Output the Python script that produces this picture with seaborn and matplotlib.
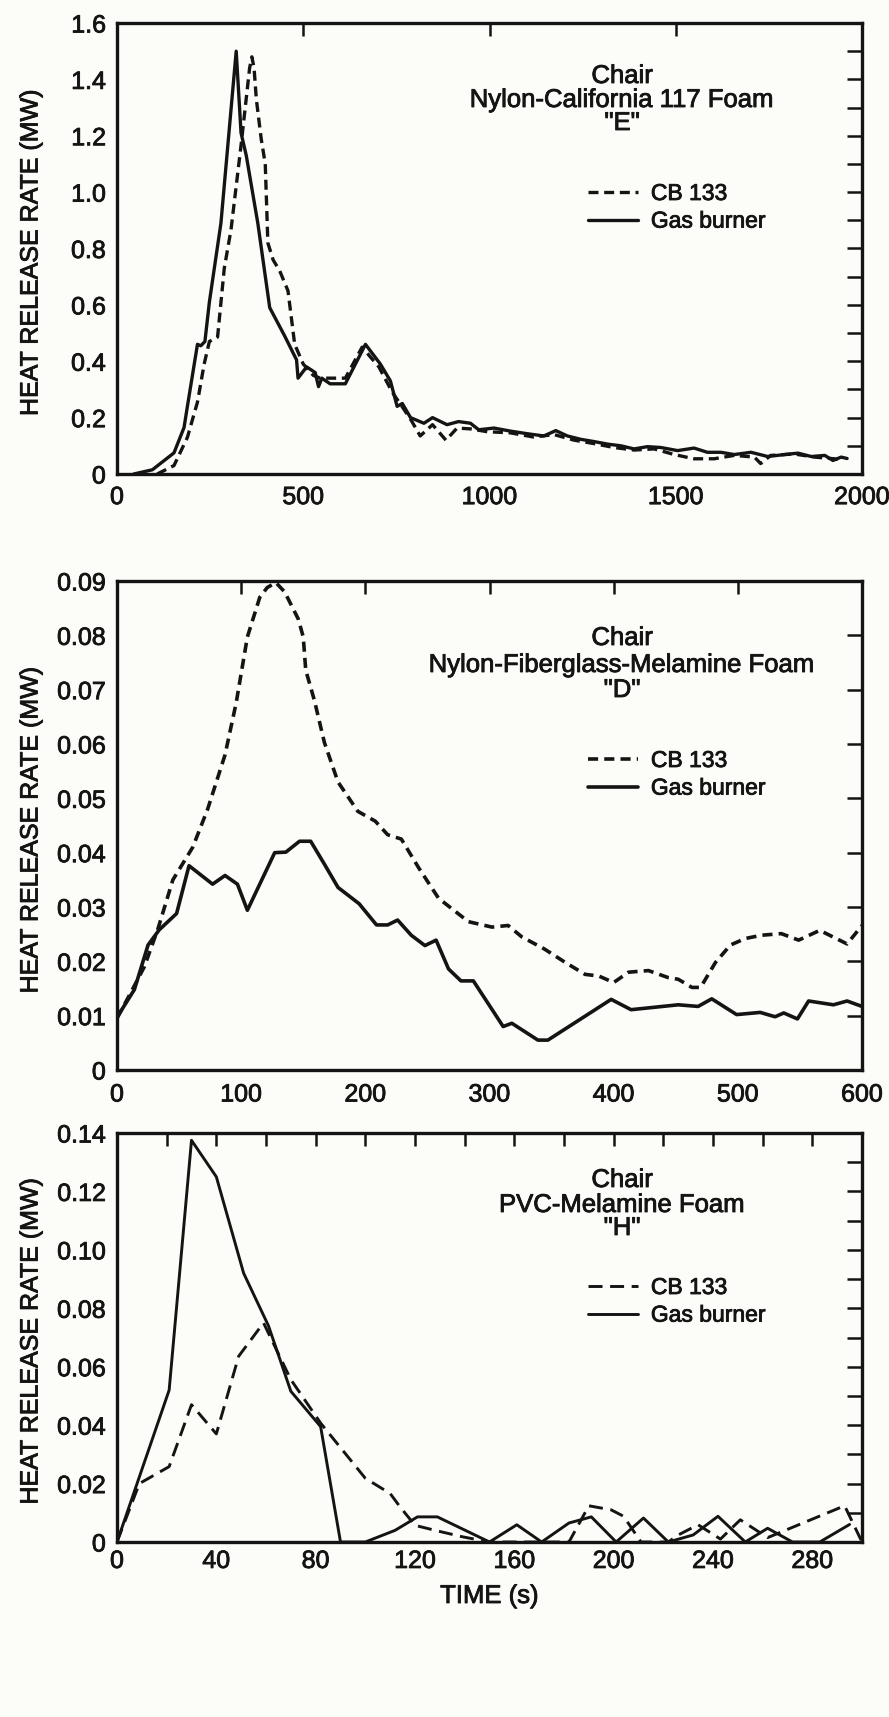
import pandas as pd
import matplotlib
matplotlib.use("Agg")
import matplotlib.pyplot as plt
import matplotlib.patheffects as pe
from matplotlib.text import Text
import seaborn as sns

# chair E : Nylon-California 117 foam
e_cb_t = [108, 153, 189, 216, 234, 248, 261, 270, 288, 306, 333, 356, 362, 368, 374, 387, 398, 405,
          419, 437, 459, 477, 500, 527, 545, 586, 613, 658, 703, 739, 770, 790, 814, 847, 883, 913,
          949, 994, 1056, 1119, 1173, 1227, 1280, 1334, 1388, 1442, 1496, 1549, 1603, 1657, 1711,
          1728, 1755, 1818, 1872, 1926, 1944]
e_cb_q = [0, 0.03, 0.13, 0.255, 0.39, 0.47, 0.48, 0.486, 0.73, 0.866, 1.166, 1.44, 1.48, 1.44, 1.33,
          1.19, 1.10, 0.82, 0.76, 0.72, 0.65, 0.46, 0.39, 0.35, 0.34, 0.34, 0.34, 0.45, 0.38, 0.29,
          0.23, 0.19, 0.135, 0.175, 0.12, 0.163, 0.16, 0.15, 0.146, 0.131, 0.14, 0.12, 0.108, 0.094,
          0.085, 0.089, 0.069, 0.054, 0.054, 0.066, 0.06, 0.037, 0.066, 0.071, 0.06, 0.054, 0.048]
e_gas_t = [45, 95, 153, 180, 189, 216, 225, 236, 248, 279, 320, 333, 347, 378, 410, 450, 482, 486,
           509, 532, 541, 550, 572, 613, 640, 667, 707, 734, 752, 766, 788, 824, 847, 886, 917, 949,
           971, 1012, 1057, 1101, 1146, 1178, 1209, 1245, 1281, 1317, 1353, 1388, 1424, 1460, 1505,
           1549, 1585, 1621, 1657, 1702, 1747, 1792, 1828, 1864, 1900, 1922, 1944, 1960]
e_gas_q = [0, 0.015, 0.075, 0.165, 0.24, 0.46, 0.455, 0.47, 0.61, 0.89, 1.50, 1.21, 1.13, 0.89, 0.59,
           0.49, 0.405, 0.34, 0.38, 0.36, 0.31, 0.34, 0.32, 0.32, 0.39, 0.46, 0.39, 0.33, 0.24, 0.25,
           0.20, 0.18, 0.20, 0.175, 0.186, 0.18, 0.157, 0.163, 0.152, 0.143, 0.135, 0.154, 0.135,
           0.123, 0.115, 0.106, 0.10, 0.089, 0.097, 0.094, 0.083, 0.092, 0.077, 0.077, 0.069, 0.077,
           0.062, 0.069, 0.074, 0.062, 0.066, 0.048, 0.06, 0.055]

# chair D : Nylon-Fiberglass-Melamine foam
d_cb_t = [0, 11, 22, 33, 45, 53, 61, 73, 87, 96, 105, 115, 121, 128, 135, 146, 150, 152, 159, 167,
          178, 194, 208, 218, 229, 243, 259, 283, 302, 315, 326, 344, 361, 377, 388, 400, 412, 428,
          444, 452, 463, 470, 482, 494, 506, 519, 535, 549, 566, 588, 600]
d_cb_q = [0.0095, 0.0142, 0.019, 0.026, 0.035, 0.038, 0.041, 0.048, 0.058, 0.0676, 0.0797, 0.087,
          0.0888, 0.0897, 0.088, 0.083, 0.0797, 0.0736, 0.068, 0.0603, 0.053, 0.0476, 0.0458, 0.0433,
          0.0425, 0.0372, 0.0316, 0.0273, 0.0263, 0.0266, 0.0245, 0.0223, 0.0198, 0.0176, 0.0173,
          0.0161, 0.018, 0.0183, 0.017, 0.0167, 0.0152, 0.0152, 0.0198, 0.023, 0.0242, 0.0248,
          0.0251, 0.0239, 0.0257, 0.0232, 0.0266]
d_gas_t = [0, 14, 25, 34, 48, 58, 77, 87, 97, 105, 127, 136, 147, 156, 167, 178, 195, 209, 218, 226,
           237, 248, 257, 267, 277, 287, 311, 318, 339, 347, 398, 414, 452, 468, 479, 499, 518, 530,
           537, 548, 557, 577, 588, 600]
d_gas_q = [0.0097, 0.0148, 0.023, 0.0258, 0.0288, 0.0376, 0.0342, 0.0358, 0.0342, 0.0294, 0.040,
           0.0401, 0.0421, 0.0421, 0.0379, 0.0336, 0.0306, 0.0267, 0.0267, 0.0276, 0.0248, 0.0229,
           0.0239, 0.0186, 0.0164, 0.0164, 0.008, 0.0086, 0.0055, 0.0055, 0.013, 0.0111, 0.012,
           0.0117, 0.0131, 0.0102, 0.0106, 0.0098, 0.0105, 0.0094, 0.0127, 0.012, 0.0127, 0.0117]

# chair H : PVC-Melamine foam
h_cb_t = [0, 9, 21, 30, 40, 49, 59, 70, 82, 100, 110, 114, 120, 129, 139, 150, 182, 190, 199, 204,
          211, 222, 226, 234, 243, 251, 262, 293, 300]
h_cb_q = [0, 0.02, 0.0258, 0.047, 0.037, 0.0636, 0.075, 0.0556, 0.0407, 0.0218, 0.0166, 0.012,
          0.0057, 0.0038, 0.0018, 0, 0, 0.0124, 0.011, 0.0088, 0, 0, 0.0024, 0.0059, 0.001, 0.0076,
          0.0015, 0.0124, 0]
h_gas_t = [0, 21, 30, 40, 51, 61, 70, 82, 90, 100, 112, 121, 129, 150, 161, 171, 182, 191, 201, 212,
           222, 232, 242, 253, 262, 272, 283, 295]
h_gas_q = [0, 0.052, 0.1375, 0.125, 0.092, 0.074, 0.0516, 0.0395, 0, 0, 0.004, 0.0086, 0.0086, 0,
           0.0059, 0, 0.0065, 0.0086, 0, 0.0082, 0, 0.0024, 0.0088, 0, 0.0047, 0, 0, 0.006]

series = ['CB 133', 'Gas burner']
titles = [['Chair', 'Nylon-California 117 Foam', '"E"'],
          ['Chair', 'Nylon-Fiberglass-Melamine Foam', '"D"'],
          ['Chair', 'PVC-Melamine Foam', '"H"']]

sns.set_theme(style='white')
plt.rcParams['font.family'] = ['Liberation Sans', 'DejaVu Sans']
ink = '#141414'
paper = '#fcfcf8'

fig = plt.figure(figsize=(8.89, 17.17), dpi=100, facecolor=paper)
H = 1717.0
W = 889.0


def make_ax(top, bottom):
    ax = fig.add_axes([117 / W, 1 - bottom / H, (862 - 117) / W, (bottom - top) / H])
    ax.set_facecolor(paper)
    return ax


def frame(df, ax, lw, dash, xpad):
    sns.lineplot(data=df, x='t', y='q', style='src', style_order=series,
                 dashes={'CB 133': dash, 'Gas burner': ''}, color=ink, linewidth=lw,
                 estimator=None, sort=False, legend=False, ax=ax)
    for s in ax.spines.values():
        s.set_linewidth(2.4)
        s.set_color(ink)
    ax.tick_params(which='both', direction='in', top=True, right=True, colors=ink,
                   width=1.8, labelsize=18, labelcolor=ink)
    ax.tick_params(axis='y', which='both', length=11, pad=8)
    ax.tick_params(axis='x', which='both', length=9, pad=xpad)
    ax.set_xlabel('')
    ax.set_ylabel('HEAT RELEASE RATE (MW)', fontsize=18, color=ink)
    ax.yaxis.set_label_coords(-0.10, 0.49)


def notes(ax, lines, ys, leg_y, top, bottom):
    hgt = bottom - top
    for txt, y in zip(lines, ys):
        ax.text(0.678, 1 - (y - top) / hgt, txt, transform=ax.transAxes, ha='center',
                va='center', fontsize=18.5, color=ink)
    ax.legend(ax.lines[:2], series, loc='upper left',
              bbox_to_anchor=(0.632, 1 - (leg_y - top) / hgt + 11 / hgt),
              frameon=False, fontsize=16.5, handlelength=2.2, handletextpad=0.55,
              labelspacing=0.2, borderpad=0, borderaxespad=0, labelcolor=ink)


def long(cb_t, cb_q, gas_t, gas_q):
    a = pd.DataFrame({'t': cb_t, 'q': cb_q, 'src': 'CB 133'})
    b = pd.DataFrame({'t': gas_t, 'q': gas_q, 'src': 'Gas burner'})
    return pd.concat([a, b], ignore_index=True)


# panel E
ax1 = make_ax(23, 474)
frame(long(e_cb_t, e_cb_q, e_gas_t, e_gas_q), ax1, 2.4, (3.0, 1.7), 8)
ax1.set_xlim(0, 2000)
ax1.set_ylim(0, 1.6)
ax1.set_xticks([0, 500, 1000, 1500, 2000])
yt = [0, 0.2, 0.4, 0.6, 0.8, 1.0, 1.2, 1.4, 1.6]
ax1.set_yticks(yt)
ax1.set_yticklabels(['0', '0.2', '0.4', '0.6', '0.8', '1.0', '1.2', '1.4', '1.6'])
ax1.set_yticks([0.1, 0.3, 0.5, 0.7, 0.9, 1.1, 1.3, 1.5], minor=True)
notes(ax1, titles[0], [76, 100, 123], 193, 23, 474)

# panel D
ax2 = make_ax(581, 1070)
frame(long(d_cb_t, d_cb_q, d_gas_t, d_gas_q), ax2, 2.6, (2.8, 1.7), 9)
ax2.set_xlim(0, 600)
ax2.set_ylim(0, 0.09)
ax2.set_xticks([0, 100, 200, 300, 400, 500, 600])
yt2 = [0, 0.01, 0.02, 0.03, 0.04, 0.05, 0.06, 0.07, 0.08, 0.09]
ax2.set_yticks(yt2)
ax2.set_yticklabels(['0'] + ['%.2f' % v for v in yt2[1:]])
notes(ax2, titles[1], [638, 665, 690], 760, 581, 1070)

# panel H
ax3 = make_ax(1133, 1542)
frame(long(h_cb_t, h_cb_q, h_gas_t, h_gas_q), ax3, 2.1, (4.8, 2.6), 5)
ax3.set_xlim(0, 300)
ax3.set_ylim(0, 0.14)
ax3.set_xticks([0, 40, 80, 120, 160, 200, 240, 280])
ax3.set_xticks([20, 60, 100, 140, 180, 220, 260, 300], minor=True)
yt3 = [0, 0.02, 0.04, 0.06, 0.08, 0.10, 0.12, 0.14]
ax3.set_yticks(yt3)
ax3.set_yticklabels(['0'] + ['%.2f' % v for v in yt3[1:]])
ax3.set_yticks([0.01, 0.03, 0.05, 0.07, 0.09, 0.11, 0.13], minor=True)
ax3.set_xlabel('TIME (s)', fontsize=18.5, color=ink)
ax3.xaxis.set_label_coords(0.5, -(1584 - 1542) / 409.0)
ax3.xaxis.label.set_verticalalignment('top')
notes(ax3, titles[2], [1180, 1205, 1228], 1287, 1133, 1542)

# scanned print looks a little heavier than plain text
for t in fig.findobj(Text):
    t.set_path_effects([pe.withStroke(linewidth=0.6, foreground=ink)])

fig.savefig('out.png', dpi=100, facecolor=paper)
